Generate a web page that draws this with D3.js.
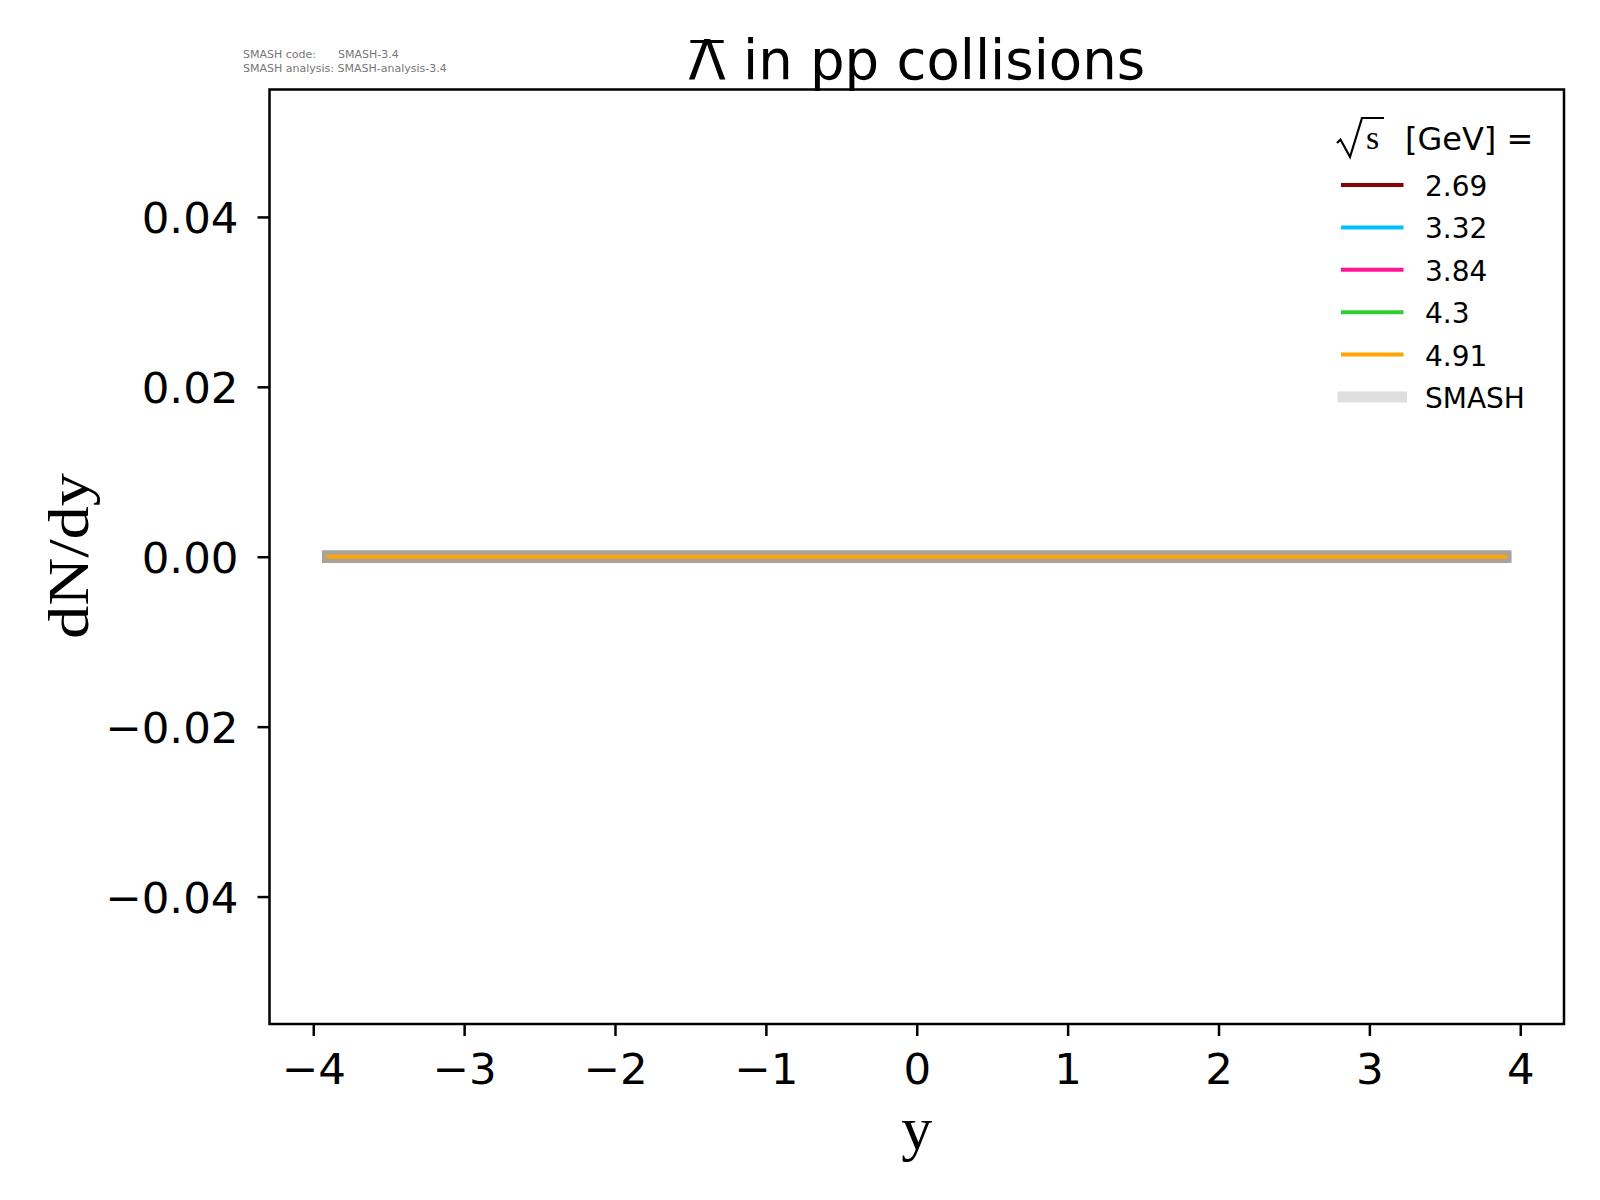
<!DOCTYPE html>
<html>
<head>
<meta charset="utf-8">
<script src="https://cdn.jsdelivr.net/npm/d3@7"></script>
<style>
	body { margin:0; background:#fff; }
	svg { display:block; }
</style>
</head>
<body>
<svg id="chart" width="1600" height="1200"></svg>
<script>

// chart data
// --------------------------------
var aRapidity = [-3.9,-3.7,-3.5,-3.3,-3.1,-2.9,-2.7,-2.5,-2.3,-2.1,-1.9,-1.7,-1.5,-1.3,-1.1,-0.9,-0.7,-0.5,-0.3,-0.1,
                 0.1,0.3,0.5,0.7,0.9,1.1,1.3,1.5,1.7,1.9,2.1,2.3,2.5,2.7,2.9,3.1,3.3,3.5,3.7,3.9];

var aEnergies = ["2.69","3.32","3.84","4.3","4.91"];

var aYield_269 = [0,0,0,0,0,0,0,0,0,0,0,0,0,0,0,0,0,0,0,0,0,0,0,0,0,0,0,0,0,0,0,0,0,0,0,0,0,0,0,0];
var aYield_332 = [0,0,0,0,0,0,0,0,0,0,0,0,0,0,0,0,0,0,0,0,0,0,0,0,0,0,0,0,0,0,0,0,0,0,0,0,0,0,0,0];
var aYield_384 = [0,0,0,0,0,0,0,0,0,0,0,0,0,0,0,0,0,0,0,0,0,0,0,0,0,0,0,0,0,0,0,0,0,0,0,0,0,0,0,0];
var aYield_430 = [0,0,0,0,0,0,0,0,0,0,0,0,0,0,0,0,0,0,0,0,0,0,0,0,0,0,0,0,0,0,0,0,0,0,0,0,0,0,0,0];
var aYield_491 = [0,0,0,0,0,0,0,0,0,0,0,0,0,0,0,0,0,0,0,0,0,0,0,0,0,0,0,0,0,0,0,0,0,0,0,0,0,0,0,0];

var aXTicks = [-4,-3,-2,-1,0,1,2,3,4];
var aYTicks = [-0.04,-0.02,0.00,0.02,0.04];

var aColors = ["#8b0000","#00bfff","#ff1493","#32cd32","#ffa500"];

(function() {

	var aYields = [aYield_269,aYield_332,aYield_384,aYield_430,aYield_491];

	var nLeft = 269.5, nRight = 1564, nTop = 89.5, nBottom = 1024;
	var szFont = "'DejaVu Sans', sans-serif";
	var szSerif = "'Liberation Serif', 'Times New Roman', serif";

	var svg = d3.select("#chart");

	var x = d3.scaleLinear().domain([-4.29,4.29]).range([nLeft,nRight]);
	var y = d3.scaleLinear().domain([-0.055,0.055]).range([nBottom,nTop]);

	// smash version info
	// --------------------------------
	var info = svg.append("g")
		.attr("style","font-family:"+szFont+";font-size:11px;fill:#777;");
	info.append("text").attr("x",243).attr("y",58).text("SMASH code:");
	info.append("text").attr("x",338).attr("y",58).text("SMASH-3.4");
	info.append("text").attr("x",243).attr("y",71.5).text("SMASH analysis: SMASH-analysis-3.4");

	// title
	// --------------------------------
	var title = svg.append("text")
		.attr("x",(nLeft+nRight)/2)
		.attr("y",78.5)
		.attr("style","font-family:"+szFont+";font-size:54.5px;text-anchor:middle;fill:#000;");
	title.append("tspan").text("Λ");
	title.append("tspan").text(" in pp collisions");

	// bar over the lambda
	var tNode = title.node();
	var nBarX0 = tNode.getStartPositionOfChar(0).x;
	var nBarX1 = tNode.getEndPositionOfChar(0).x;
	svg.append("line")
		.attr("x1",nBarX0+2).attr("x2",nBarX1-2)
		.attr("y1",41.5).attr("y2",41.5)
		.attr("style","stroke:#000;stroke-width:3;");

	// axes
	// --------------------------------
	var xAxis = d3.axisBottom(x).tickValues(aXTicks).tickFormat(d3.format("d")).tickSize(12).tickPadding(17);
	var yAxis = d3.axisLeft(y).tickValues(aYTicks).tickFormat(d3.format(".2f")).tickSize(12).tickPadding(19);

	var gx = svg.append("g").attr("transform","translate(0,"+nBottom+")").call(xAxis);
	var gy = svg.append("g").attr("transform","translate("+nLeft+",0)").call(yAxis);

	[gx,gy].forEach(function(g){
		g.select(".domain").remove();
		g.selectAll(".tick line").attr("stroke","#000").attr("stroke-width",2.5);
		g.selectAll(".tick text")
			.attr("fill","#000")
			.attr("style","font-family:"+szFont+";font-size:43.5px;");
	});
	gy.selectAll(".tick text").attr("dy","0.36em");

	// data lines (band + colored line per energy)
	// --------------------------------
	var line = d3.line()
		.x(function(d){ return x(d[0]); })
		.y(function(d){ return y(d[1]); });

	var plot = svg.append("g");
	for ( var i=0; i<aEnergies.length; i++ ){
		var pts = aRapidity.map(function(r,j){ return [r,aYields[i][j]]; });
		plot.append("path")
			.attr("d",line(pts))
			.attr("style","fill:none;stroke:#a9a29d;stroke-width:12;stroke-linecap:square;");
		plot.append("path")
			.attr("d",line(pts))
			.attr("style","fill:none;stroke:"+aColors[i]+";stroke-width:4;stroke-linecap:square;");
	}

	// frame
	// --------------------------------
	svg.append("rect")
		.attr("x",nLeft).attr("y",nTop)
		.attr("width",nRight-nLeft).attr("height",nBottom-nTop)
		.attr("style","fill:none;stroke:#000;stroke-width:2.5;");

	// axis labels
	// --------------------------------
	svg.append("text")
		.attr("x",(nLeft+nRight)/2)
		.attr("y",1149)
		.attr("style","font-family:"+szSerif+";font-size:62px;text-anchor:middle;fill:#000;")
		.text("y");

	svg.append("text")
		.attr("transform","translate(88,556) rotate(-90)")
		.attr("textLength",166)
		.attr("lengthAdjust","spacingAndGlyphs")
		.attr("style","font-family:"+szSerif+";font-size:57px;text-anchor:middle;fill:#000;")
		.text("dN/dy");

	// legend
	// --------------------------------
	var legend = svg.append("g");

	legend.append("path")
		.attr("d","M1337,143 L1340.5,139.5 L1350,157 L1362,118 L1384,118")
		.attr("style","fill:none;stroke:#000;stroke-width:2.2;stroke-linejoin:miter;");
	legend.append("text")
		.attr("x",1366).attr("y",149)
		.attr("style","font-family:"+szSerif+";font-size:34px;fill:#000;")
		.text("s");
	legend.append("text")
		.attr("x",1405).attr("y",149.5)
		.attr("style","font-family:"+szFont+";font-size:32px;fill:#000;")
		.text("[GeV] =");

	var aLegendLabels = aEnergies.concat(["SMASH"]);
	var aLegendColors = aColors.concat(["#dedede"]);
	for ( var k=0; k<aLegendLabels.length; k++ ){
		var ly = 185 + k*42.4;
		legend.append("line")
			.attr("x1",1343).attr("x2",1401.5)
			.attr("y1",ly).attr("y2",ly)
			.attr("style","stroke:"+aLegendColors[k]+";stroke-width:"+(k<aEnergies.length?4:11)+";stroke-linecap:square;");
		legend.append("text")
			.attr("x",1425).attr("y",ly+11)
			.attr("style","font-family:"+szFont+";font-size:28px;fill:#000;")
			.text(aLegendLabels[k]);
	}

})();
</script>
</body>
</html>
